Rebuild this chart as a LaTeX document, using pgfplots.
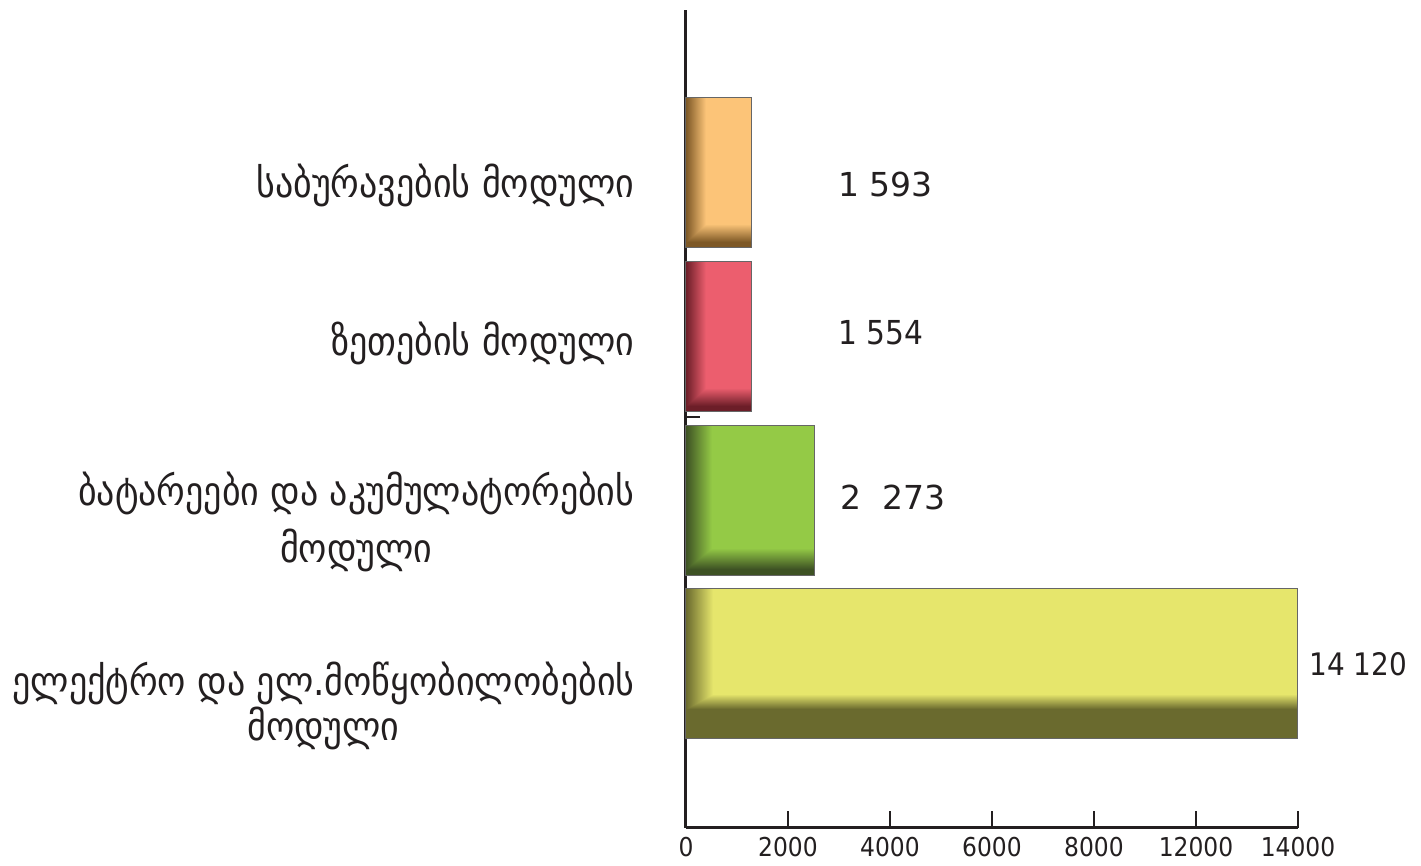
\documentclass[border=0pt]{standalone}
\usepackage{pgfplots}
\pgfplotsset{compat=1.18}
\usepackage{fontspec}
\setmainfont{DejaVu Sans}
\newfontfamily\cond{DejaVu Sans Condensed}
\definecolor{ink}{RGB}{35,31,32}
% pillow-like bars: dark left edge and dark bottom band (f = min(fx,fy))
% orange
\pgfdeclarefunctionalshading{shO}{\pgfpointorigin}{\pgfpoint{100bp}{100bp}}{}{
  exch 25 sub 15 div dup 0 lt {pop 0} if dup 1 gt {pop 1} if
  exch 25 sub 1.7 sub 6 div dup 0 lt {pop 0} if dup 1 gt {pop 1} if
  2 copy gt {exch} if pop
  dup 0.498 mul 0.49 add exch dup 0.424 mul 0.345 add exch 0.322 mul 0.149 add
}
% red
\pgfdeclarefunctionalshading{shR}{\pgfpointorigin}{\pgfpoint{100bp}{100bp}}{}{
  exch 25 sub 15 div dup 0 lt {pop 0} if dup 1 gt {pop 1} if
  exch 25 sub 1.7 sub 6 div dup 0 lt {pop 0} if dup 1 gt {pop 1} if
  2 copy gt {exch} if pop
  dup 0.501 mul 0.424 add exch dup 0.251 mul 0.118 add exch 0.274 mul 0.157 add
}
% green
\pgfdeclarefunctionalshading{shG}{\pgfpointorigin}{\pgfpoint{100bp}{100bp}}{}{
  exch 25 sub 10 div dup 0 lt {pop 0} if dup 1 gt {pop 1} if
  exch 25 sub 2 sub 7 div dup 0 lt {pop 0} if dup 1 gt {pop 1} if
  2 copy gt {exch} if pop
  dup 0.337 mul 0.243 add exch dup 0.470 mul 0.322 add exch 0.134 mul 0.141 add
}
% yellow
\pgfdeclarefunctionalshading{shY}{\pgfpointorigin}{\pgfpoint{100bp}{100bp}}{}{
  exch 25 sub 2.2 div dup 0 lt {pop 0} if dup 1 gt {pop 1} if
  exch 25 sub 10 sub 5 div dup 0 lt {pop 0} if dup 1 gt {pop 1} if
  2 copy gt {exch} if pop
  dup 0.486 mul 0.416 add exch dup 0.486 mul 0.416 add exch 0.244 mul 0.180 add
}
\begin{document}
\begin{tikzpicture}
\useasboundingbox (-343pt,-19pt) rectangle (367.5pt,414pt);
\begin{axis}[
  at={(0,0)}, anchor=south west,
  scale only axis, width=306pt, height=409pt,
  xmin=0, xmax=12000, ymin=-1, ymax=3.988,
  clip=false,
  xbar, bar shift=0pt, bar width=75pt,
  axis x line=bottom, axis y line=left,
  axis line style={-, line width=1.5pt, ink},
  xtick={0,2000,4000,6000,8000,10000,12000},
  xticklabels={0,2000,4000,6000,8000,12000,14000},
  xtick style={line width=1.2pt, ink},
  major tick length=8.5pt,
  xtick align=inside,
  xticklabel style={font=\cond\fontsize{13}{15}\selectfont, text=ink, inner sep=0pt, anchor=north, yshift=-4.5pt},
  ytick={-0.256,0.866,1.957,2.92},
  yticklabels={{ელექტრო და ელ.მოწყობილობების\\მოდული},{ბატარეები და აკუმულატორების\\[6pt]მოდული},{ზეთების მოდული},{საბურავების მოდული}},
  ytick style={draw=none},
  yticklabel style={font=\cond\fontsize{20}{16}\selectfont, text=ink, align=center, anchor=east, xshift=-18pt},
  extra y ticks={1.506},
  extra y tick labels={},
  extra y tick style={ytick style={draw=ink, line width=1.2pt}, major tick length=7pt, ytick align=inside},
  point meta=explicit symbolic,
  nodes near coords,
  every node near coord/.style={anchor=west, inner sep=0pt, text=ink, font=\fontsize{16.5}{18}\selectfont},
]
\addplot[draw=gray!80!black, line width=0.5pt, shade, shading=shY,
  nodes near coords style={xshift=5.5pt, font=\cond\fontsize{15.5}{18}\selectfont}]
  coordinates {(12000,0) [14 120]};
\addplot[draw=gray!80!black, line width=0.5pt, shade, shading=shG,
  nodes near coords style={xshift=12.5pt, yshift=1.5pt}]
  coordinates {(2529,1) [2\ \ 273]};
\addplot[draw=gray!80!black, line width=0.5pt, shade, shading=shR,
  nodes near coords style={xshift=43pt, yshift=1.5pt, font=\cond\fontsize{16.5}{18}\selectfont}]
  coordinates {(1294,2) [1 554]};
\addplot[draw=gray!80!black, line width=0.5pt, shade, shading=shO,
  nodes near coords style={xshift=43pt, yshift=-6pt}]
  coordinates {(1294,3) [1 593]};
\end{axis}
\end{tikzpicture}
\end{document}
